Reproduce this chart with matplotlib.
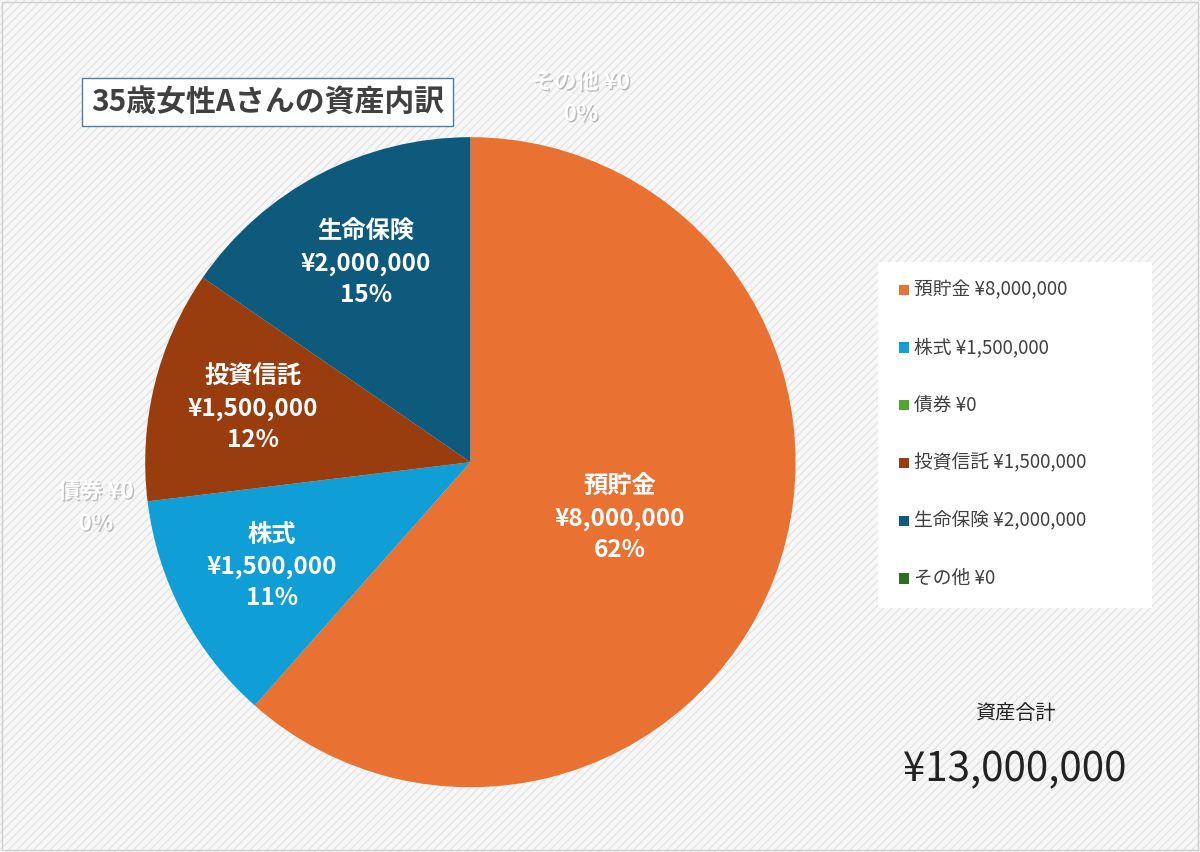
import numpy as np
import matplotlib.pyplot as plt
from matplotlib.patches import Rectangle
import matplotlib.patheffects as pe

plt.rcParams["font.family"] = "Noto Sans CJK JP"

# データ
names = ["預貯金", "株式", "債券", "投資信託", "生命保険", "その他"]
values = [8000000, 1500000, 0, 1500000, 2000000, 0]
pct_labels = ["62%", "11%", "0%", "12%", "15%", "0%"]
colors = ["#E97132", "#0F9ED5", "#4EA72E", "#9A3D0E", "#0E5A7C", "#2B6E1F"]
total = sum(values)

fig = plt.figure(figsize=(12, 8.52), dpi=100)

# 背景(斜線)
bg = fig.add_axes([0, 0, 1, 1], zorder=-1)
bg.set_axis_off()
bg.add_patch(Rectangle((0, 0), 1, 1, transform=bg.transAxes, facecolor="#f7f7f7",
                       edgecolor="#e4e4e4", hatch="////", linewidth=0))
bg.add_patch(Rectangle((0.002, 0.002), 0.996, 0.996, transform=bg.transAxes,
                       fill=False, edgecolor="#d0d0d0", linewidth=1))

ax = fig.add_axes([0.121, 0.076, 0.542, 0.763])
ax.pie(values, colors=colors, startangle=90, counterclock=False,
       wedgeprops=dict(linewidth=0))
ax.set_xlim(-1, 1)
ax.set_ylim(-1, 1)
ax.set_aspect("auto")

shadow = [pe.withSimplePatchShadow(offset=(1, -1), shadow_rgbFace="#999999", alpha=0.6)]
ang = 90.0
for name, v, p in zip(names, values, pct_labels):
    span = 360.0 * v / total
    mid = np.radians(ang - span / 2)
    if v == 0:
        r = 1.16
        x, y = r * np.cos(mid), r * np.sin(mid)
        if name == "その他":
            x, y = 0.34, 1.12
        ax.text(x, y, f"{name} ¥{v:,}\n{p}", ha="center", va="center", color="white",
                fontsize=16, fontweight="bold", linespacing=1.5, path_effects=shadow,
                clip_on=False)
    else:
        r = 0.49 if span > 180 else 0.69
        x, y = r * np.cos(mid), r * np.sin(mid)
        ax.text(x, y, f"{name}\n¥{v:,}\n{p}", ha="center", va="center", color="white",
                fontsize=17.5, fontweight="bold", linespacing=1.4)
    ang -= span

# タイトル
fig.text(0.2233, 0.880, "35歳女性Aさんの資産内訳", ha="center", va="center",
         fontsize=21.5, fontweight="bold", color="#404040",
         bbox=dict(boxstyle="square,pad=0.3", facecolor="white", edgecolor="#4a7fa0", linewidth=1))

# 凡例
fig.patches.append(Rectangle((0.732, 0.286), 0.228, 0.406, transform=fig.transFigure,
                             facecolor="white", edgecolor="none"))
for i, (name, v, c) in enumerate(zip(names, values, colors)):
    y = 0.660 - i * 0.0678
    fig.patches.append(Rectangle((0.749, y - 0.006), 0.0085, 0.012, transform=fig.transFigure,
                                 facecolor=c, edgecolor="none"))
    fig.text(0.762, y, f"{name} ¥{v:,}", ha="left", va="center", fontsize=13.5, color="#404040")

# 合計
fig.text(0.846, 0.163, "資産合計", ha="center", va="center", fontsize=14.5, color="#222222")
fig.text(0.846, 0.097, f"¥{total:,}", ha="center", va="center", fontsize=29, color="#222222")

fig.savefig("out.png", dpi=100)
